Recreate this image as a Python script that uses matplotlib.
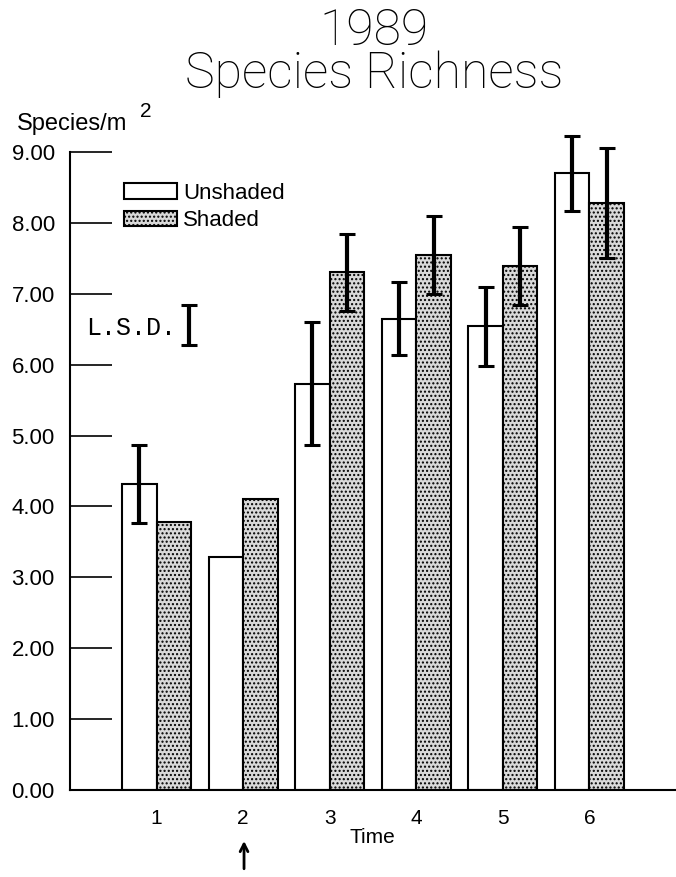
import matplotlib
matplotlib.use("Agg")
import matplotlib.pyplot as plt
import numpy as np

times = [1, 2, 3, 4, 5, 6]
unshaded = [4.32, 3.28, 5.73, 6.65, 6.54, 8.70]
shaded = [3.78, 4.11, 7.30, 7.54, 7.39, 8.28]
unshaded_err = [0.55, np.nan, 0.87, 0.51, 0.56, 0.53]
shaded_err = [np.nan, np.nan, 0.55, 0.55, 0.55, 0.78]
lsd_center = 6.56
lsd_half = 0.28
yticks = [0, 1, 2, 3, 4, 5, 6, 7, 8, 9]

plt.rcParams['font.family'] = ['Liberation Sans', 'DejaVu Sans']
plt.rcParams['hatch.color'] = '#555555'
fig = plt.figure(figsize=(6.76, 8.77), dpi=100)
ax = fig.add_axes([0.1036, 0.0992, 0.8964, 0.7275])

x = np.array(times, dtype=float)
w = 0.4
ax.bar(x - w/2, unshaded, w, color='white', edgecolor='black', linewidth=1.5, label='Unshaded', zorder=2)
ax.bar(x + w/2, shaded, w, color='#d9d9d9', edgecolor='black', linewidth=1.5, hatch='....', label='Shaded', zorder=2)

for xs, ys, es in [(x - w/2, unshaded, unshaded_err), (x + w/2, shaded, shaded_err)]:
    eb = ax.errorbar(xs, ys, yerr=es, fmt='none', ecolor='black', elinewidth=3, capsize=5.5, capthick=2.2, zorder=3)
    for art in list(eb.lines[1]) + list(eb.lines[2]):
        art.set_clip_on(False)

# LSD bar
ax.errorbar([1.38], [lsd_center], yerr=[lsd_half], fmt='none', ecolor='black', elinewidth=3, capsize=6, capthick=2.2, zorder=3)
ax.text(1.22, 6.52, 'L.S.D.', family=['Liberation Mono', 'DejaVu Sans Mono'], fontsize=18,
        ha='right', va='center')

ax.set_xlim(0, 7)
ax.set_ylim(0, 9)
ax.set_yticks(yticks)
ax.set_yticklabels([f'{v:.2f}' for v in yticks], fontsize=16)
ax.tick_params(axis='y', direction='in', length=30, width=1.2, pad=11)
ax.set_xticks(times)
ax.set_xticklabels([str(t) for t in times], fontsize=15)
ax.tick_params(axis='x', length=0, pad=14)
ax.spines['top'].set_visible(False)
ax.spines['right'].set_visible(False)
ax.spines['left'].set_linewidth(1.5)
ax.spines['bottom'].set_linewidth(1.5)

ax.text(3.49, -0.75, 'Time', fontsize=15, ha='center', va='baseline')

leg = ax.legend(loc='upper left', bbox_to_anchor=(0.089, 0.952), frameon=False, fontsize=16,
                handlelength=2.4, handleheight=0.72, handletextpad=0.25, labelspacing=0.3, borderaxespad=0,
                borderpad=0)

title_font = ['Roboto', 'DejaVu Sans']
fig.text(0.553, 0.9487, '1989', fontsize=36, ha='center', va='baseline', fontweight='light', family=title_font)
fig.text(0.553, 0.8997, 'Species Richness', fontsize=36, ha='center', va='baseline', fontweight='light', family=title_font)
fig.text(0.025, 0.8518, 'Species/m', fontsize=17, ha='left', va='baseline')
fig.text(0.207, 0.8666, '2', fontsize=15, ha='left', va='baseline')

ax.annotate('', xy=(2.01, -0.68), xytext=(2.01, -1.15), xycoords='data', textcoords='data',
            arrowprops=dict(arrowstyle='->,head_length=0.55,head_width=0.28', color='black', lw=2),
            annotation_clip=False)

fig.savefig('out.png', dpi=100)
